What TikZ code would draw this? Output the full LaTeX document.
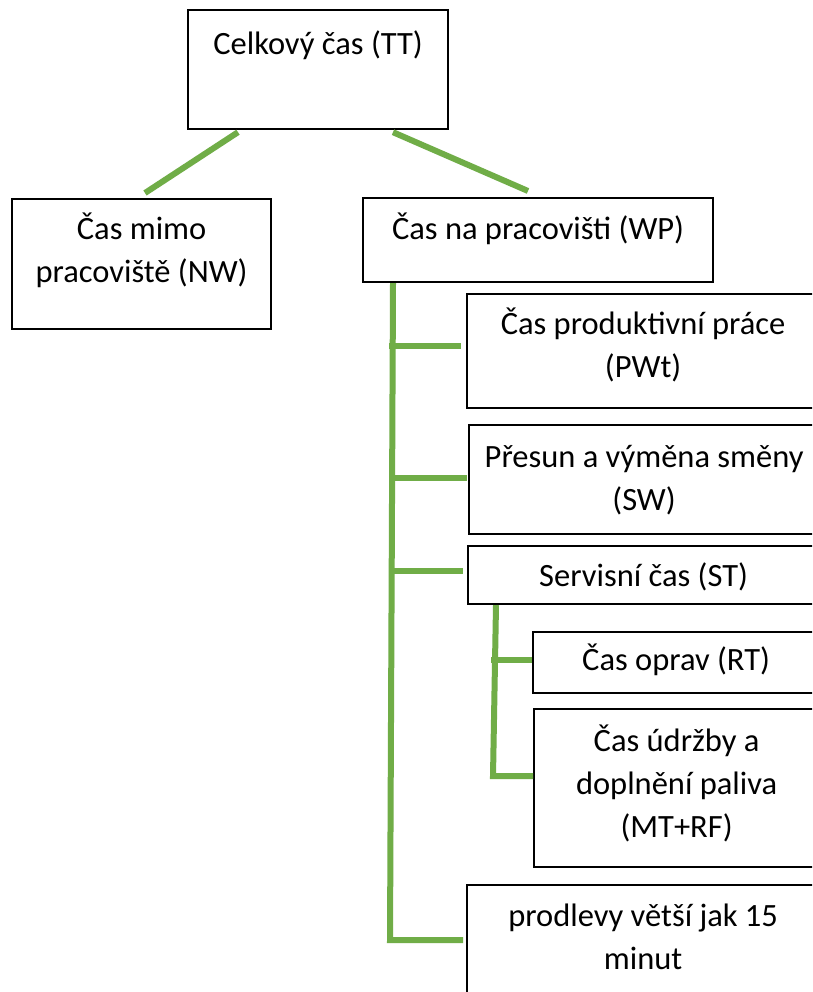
\documentclass[tikz,border=0pt]{standalone}
\usepackage{fontspec}
\setmainfont{Carlito}
\usetikzlibrary{calc}
\definecolor{gr}{HTML}{70AD47}
\begin{document}
\begin{tikzpicture}[x=1pt,y=-1pt,
  box/.style={draw=black, line width=2.2pt, inner sep=0pt, anchor=north west},
  lbl/.style={font=\fontsize{32.5}{43}\selectfont, align=center, inner sep=0pt, anchor=north},
  conn/.style={draw=gr, line width=6pt}]
\useasboundingbox (0,0) rectangle (812,992);
\fill[white] (0,0) rectangle (812,992);
\clip (0,0) rectangle (812,992);
% boxes
\node[box, minimum width=260pt, minimum height=119pt] (tt) at (187,9) {};
\node[box, minimum width=259pt, minimum height=130pt] (nw) at (11,198) {};
\node[box, minimum width=350pt, minimum height=84pt] (wp) at (362,197) {};
\node[box, minimum width=352pt, minimum height=114pt] (pwt) at (466,293) {};
\node[box, minimum width=350pt, minimum height=109pt] (sw) at (468,424) {};
\node[box, minimum width=351pt, minimum height=58pt] (st) at (467,545) {};
\node[box, minimum width=286pt, minimum height=61pt] (rt) at (532,631) {};
\node[box, minimum width=285pt, minimum height=158pt] (mt) at (533,708) {};
\node[box, minimum width=352pt, minimum height=130pt] (pr) at (466,884) {};
% labels
\node[lbl] (ttl) at ($(tt.north)+(0,14.9)$) {\strut Celkový čas (TT)};
\node[lbl] (nwl) at ($(nw.north)+(0,11.4)$) {\strut Čas mimo\\\strut pracoviště (NW)};
\node[lbl] (wpl) at ($(wp.north)+(0,12.4)$) {\strut Čas na pracovišti (WP)};
\node[lbl] (pwtl) at ($(pwt.north)+(0,11.4)$) {\strut Čas produktivní práce\\\strut (PWt)};
\node[lbl] (swl) at ($(sw.north)+(0,13.4)$) {\strut Přesun a výměna směny\\\strut (SW)};
\node[lbl] (stl) at ($(st.north)+(0,10.9)$) {\strut Servisní čas (ST)};
\node[lbl] (rtl) at ($(rt.north)+(0,8.9)$) {\strut Čas oprav (RT)};
\node[lbl] (mtl) at ($(mt.north)+(0,12.9)$) {\strut Čas údržby a\\\strut doplnění paliva\\\strut (MT+RF)};
\node[lbl] (prl) at ($(pr.north)+(0,11.9)$) {\strut prodlevy větší jak 15\\\strut minut};
% connectors
\draw[conn] ($(tt.south west)+(51,2)$) -- ($(nw.north west)+(134,-5)$);
\draw[conn] ($(tt.south west)+(206,2)$) -- ($(wp.north west)+(166,-6)$);
\coordinate (tr0) at ($(wp.south west)+(31,0)$);
\draw[conn] (tr0) -- ($(pr.north west)+(-76,56)$) -- ($(pr.north west)+(-3,56)$);
\draw[conn] ($(pwt.north west)+(-77,53)$) -- ($(pwt.north west)+(-5,53)$);
\draw[conn] ($(sw.north west)+(-79,54)$) -- ($(sw.north west)+(-1,54)$);
\draw[conn] ($(st.north west)+(-78,26)$) -- ($(st.north west)+(-4,26)$);
\coordinate (st0) at ($(st.south west)+(29,0)$);
\draw[conn] (st0) -- ($(mt.north west)+(-40,68)$) -- ($(mt.north west)+(0,68)$);
\draw[conn] ($(rt.north west)+(-41,29)$) -- ($(rt.north west)+(0,29)$);
\end{tikzpicture}
\end{document}
